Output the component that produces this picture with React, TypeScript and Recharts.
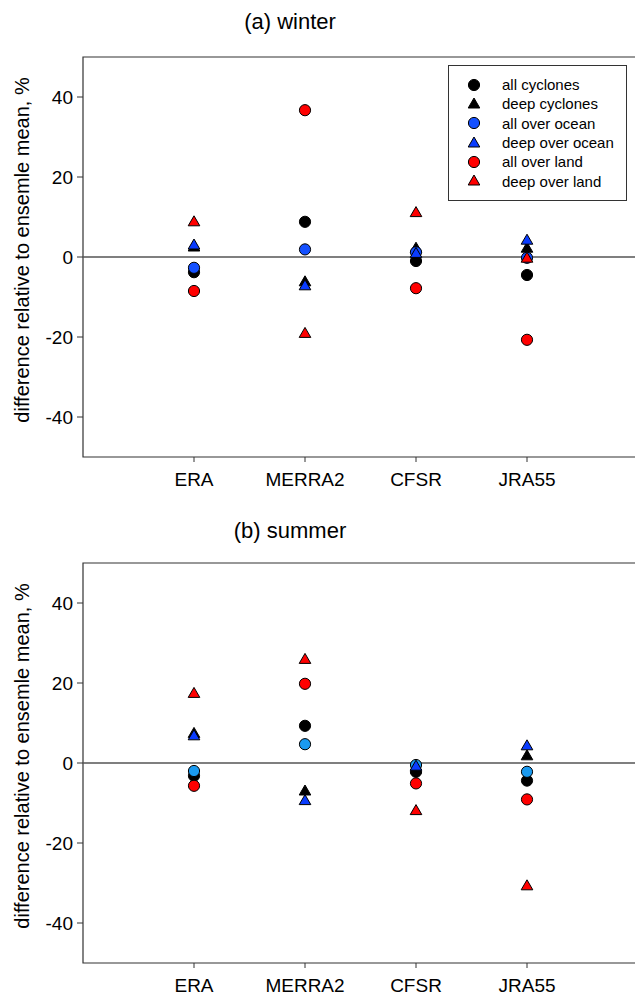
import React from "react";
import {
  ScatterChart,
  Scatter,
  XAxis,
  YAxis,
  ReferenceLine,
  ReferenceArea,
  Legend,
} from "recharts";

const categories = ["ERA", "MERRA2", "CFSR", "JRA55"];
const yTicks = [-40, -20, 0, 20, 40];

// (a) winter
const winterAllCyclones = [-3.8, 8.8, -1.0, -4.5];
const winterDeepCyclones = [2.5, -6.2, 2.2, 2.2];
const winterAllOcean = [-2.7, 1.9, 1.2, -0.2];
const winterDeepOcean = [3.0, -7.2, 0.9, 4.2];
const winterAllLand = [-8.5, 36.7, -7.8, -20.7];
const winterDeepLand = [8.8, -19.1, 11.1, -0.3];

// (b) summer
const summerAllCyclones = [-3.2, 9.3, -2.2, -4.4];
const summerDeepCyclones = [7.4, -7.0, -1.5, 1.8];
const summerAllOcean = [-2.0, 4.7, -0.5, -2.2];
const summerDeepOcean = [6.8, -9.4, -0.8, 4.3];
const summerAllLand = [-5.7, 19.8, -5.1, -9.1];
const summerDeepLand = [17.4, 25.9, -11.9, -30.7];

const FONT = "'Liberation Sans', Arial, Helvetica, sans-serif";

const toPoints = (values: number[]) =>
  values.map((v, i) => ({ x: i + 1, y: v }));

const Circle = (fill: string) => (p: any) => (
  <circle cx={p.cx} cy={p.cy} r={5.6} fill={fill} stroke="#000" strokeWidth={1} />
);

const Triangle = (fill: string) => (p: any) => (
  <polygon
    points={`${p.cx},${p.cy - 6} ${p.cx - 5.8},${p.cy + 4} ${p.cx + 5.8},${p.cy + 4}`}
    fill={fill}
    stroke="#000"
    strokeWidth={1}
    strokeLinejoin="miter"
  />
);

interface SeriesDef {
  name: string;
  values: number[];
  fill: string;
  marker: "circle" | "triangle";
}

const legendRows = [
  { name: "all cyclones", fill: "#000000", marker: "circle" },
  { name: "deep cyclones", fill: "#000000", marker: "triangle" },
  { name: "all over ocean", fill: "#1450ff", marker: "circle" },
  { name: "deep over ocean", fill: "#0a3cff", marker: "triangle" },
  { name: "all over land", fill: "#ff0000", marker: "circle" },
  { name: "deep over land", fill: "#ff0000", marker: "triangle" },
];

const LegendBox = () => (
  <div
    style={{
      width: 179,
      height: 136,
      boxSizing: "border-box",
      border: "1px solid #333",
      background: "#fff",
      paddingTop: 9,
      fontFamily: FONT,
      fontSize: 15,
    }}
  >
    {legendRows.map((r) => (
      <div key={r.name} style={{ display: "flex", alignItems: "center", height: 19.3 }}>
        <svg width={50} height={16} style={{ flexShrink: 0 }}>
          {r.marker === "circle" ? (
            <circle cx={25} cy={8} r={5.6} fill={r.fill} stroke="#000" />
          ) : (
            <polygon points="25,2 19.2,12 30.8,12" fill={r.fill} stroke="#000" />
          )}
        </svg>
        <span style={{ marginLeft: 3, color: "#000", whiteSpace: "nowrap" }}>{r.name}</span>
      </div>
    ))}
  </div>
);

const yLabel = (props: any) => {
  const vb = props.viewBox;
  const cy = vb.y + vb.height / 2 - 7;
  return (
    <text
      x={29}
      y={cy}
      transform={`rotate(-90, 29, ${cy})`}
      textAnchor="middle"
      fontSize={20}
      fontFamily={FONT}
      fill="#000"
    >
      difference relative to ensemle mean, %
    </text>
  );
};

const Panel = ({ series, showLegend }: { series: SeriesDef[]; showLegend?: boolean }) => (
  <ScatterChart
    width={640}
    height={506}
    margin={{ top: 57, right: 2, bottom: 4, left: 0 }}
    style={{ fontFamily: FONT }}
  >
    <ReferenceArea
      x1={0}
      x2={5}
      y1={-50}
      y2={50}
      fill="none"
      stroke="#333"
      strokeWidth={1.2}
      ifOverflow="visible"
    />
    <XAxis
      type="number"
      dataKey="x"
      domain={[0, 5]}
      ticks={[1, 2, 3, 4]}
      tickFormatter={(v: number) => categories[v - 1]}
      axisLine={false}
      tickLine={{ stroke: "#333" }}
      tickSize={5}
      tickMargin={11}
      height={45}
      tick={{ fill: "#000", fontSize: 19 }}
      interval={0}
    />
    <YAxis
      type="number"
      dataKey="y"
      domain={[-50, 50]}
      ticks={yTicks}
      width={83}
      axisLine={false}
      tickLine={{ stroke: "#333" }}
      tickSize={6}
      tickMargin={4}
      tick={{ fill: "#000", fontSize: 19 }}
      label={{ content: yLabel }}
      interval={0}
    />
    <ReferenceLine y={0} stroke="#555" strokeWidth={1.3} />
    {series.map((s) => (
      <Scatter
        key={s.name}
        name={s.name}
        data={toPoints(s.values)}
        fill={s.fill}
        shape={s.marker === "circle" ? Circle(s.fill) : Triangle(s.fill)}
        isAnimationActive={false}
      />
    ))}
    {showLegend && (
      <Legend
        layout="vertical"
        align="center"
        verticalAlign="middle"
        content={<LegendBox />}
        wrapperStyle={{ position: "absolute", top: 65, left: 448, width: 179, height: 136 }}
      />
    )}
  </ScatterChart>
);

const winterSeries: SeriesDef[] = [
  { name: "all cyclones", values: winterAllCyclones, fill: "#000000", marker: "circle" },
  { name: "deep cyclones", values: winterDeepCyclones, fill: "#000000", marker: "triangle" },
  { name: "all over ocean", values: winterAllOcean, fill: "#1450ff", marker: "circle" },
  { name: "deep over ocean", values: winterDeepOcean, fill: "#0a3cff", marker: "triangle" },
  { name: "all over land", values: winterAllLand, fill: "#ff0000", marker: "circle" },
  { name: "deep over land", values: winterDeepLand, fill: "#ff0000", marker: "triangle" },
];

const summerSeries: SeriesDef[] = [
  { name: "all cyclones", values: summerAllCyclones, fill: "#000000", marker: "circle" },
  { name: "deep cyclones", values: summerDeepCyclones, fill: "#000000", marker: "triangle" },
  { name: "all over ocean", values: summerAllOcean, fill: "#1a9af0", marker: "circle" },
  { name: "deep over ocean", values: summerDeepOcean, fill: "#0a3cff", marker: "triangle" },
  { name: "all over land", values: summerAllLand, fill: "#ff0000", marker: "circle" },
  { name: "deep over land", values: summerDeepLand, fill: "#ff0000", marker: "triangle" },
];

const titleStyle: React.CSSProperties = {
  position: "absolute",
  left: 140,
  width: 300,
  textAlign: "center",
  fontFamily: FONT,
  fontSize: 22,
  lineHeight: "normal",
  color: "#000",
};

export default function App() {
  return (
    <div
      style={{
        position: "absolute",
        top: 0,
        left: 0,
        width: 635,
        height: 998,
        overflow: "hidden",
        background: "#fff",
      }}
    >
      <div style={{ ...titleStyle, top: 9 }}>(a) winter</div>
      <div style={{ position: "absolute", top: 0, left: 0 }}>
        <Panel series={winterSeries} showLegend />
      </div>
      <div style={{ ...titleStyle, top: 518 }}>(b) summer</div>
      <div style={{ position: "absolute", top: 506, left: 0 }}>
        <Panel series={summerSeries} />
      </div>
    </div>
  );
}
